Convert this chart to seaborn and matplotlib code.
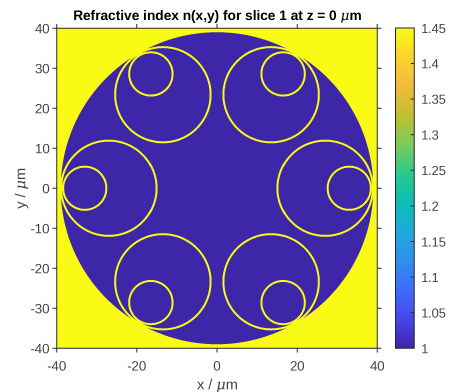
import io
import numpy as np
import matplotlib
matplotlib.use("Agg")
import matplotlib.pyplot as plt
from matplotlib.colors import LinearSegmentedColormap
import seaborn as sns

# Geometry (micrometres)
fiber_radius = 39.0
core_angles_deg = [0, 60, 120, 180, 240, 300]
large_center_dist = 27.0
large_radius = 11.9
small_center_dist = 33.0
small_radius = 5.4
ring_width = 0.5
n_low = 1.0
n_high = 1.45
axis_limit = 40
x_ticks = [-40, -20, 0, 20, 40]
y_ticks = [-40, -30, -20, -10, 0, 10, 20, 30, 40]
cbar_ticks = [1, 1.05, 1.1, 1.15, 1.2, 1.25, 1.3, 1.35, 1.4, 1.45]
cbar_labels = ["1", "1.05", "1.1", "1.15", "1.2", "1.25", "1.3", "1.35", "1.4", "1.45"]
parula_colors = ["#3E26A8", "#4746EB", "#3F6CFE", "#2F90EB", "#1EABDA", "#0BBFB8",
                 "#2BC98C", "#7BCC5A", "#BFC12F", "#F4BA3B", "#FCD22F", "#F9FB15"]

TEXT = "#404040"
plt.rcParams["font.family"] = ["Liberation Sans", "DejaVu Sans"]
plt.rcParams["mathtext.fontset"] = "custom"
plt.rcParams["mathtext.it"] = "DejaVu Serif:italic"
plt.rcParams["mathtext.rm"] = "Liberation Sans"

# Index map on a fine grid
cells = 1280
step = 2 * axis_limit / cells
coords = -axis_limit + step * (np.arange(cells) + 0.5)
X, Y = np.meshgrid(coords, coords[::-1])
index_map = np.full(X.shape, n_high)
index_map[np.hypot(X, Y) <= fiber_radius] = n_low
for a in np.deg2rad(core_angles_deg):
    for d, r in ((large_center_dist, large_radius), (small_center_dist, small_radius)):
        rho = np.hypot(X - d * np.cos(a), Y - d * np.sin(a))
        index_map[np.abs(rho - r) <= ring_width / 2] = n_high

W, H = 452, 392
fw, fh = W + 0.1, H + 0.1
fig = plt.figure(figsize=(fw / 100, fh / 100), dpi=100, facecolor="white")
ax = fig.add_axes([56.7 / fw, (fh - 348.4) / fh, 320.6 / fw, 320 / fh])
cax = fig.add_axes([395.4 / fw, (fh - 348.4) / fh, 18.8 / fw, 320.4 / fh])
cmap = LinearSegmentedColormap.from_list("parula_like", parula_colors, N=256)

sns.heatmap(index_map, ax=ax, cbar_ax=cax, cmap=cmap, vmin=n_low, vmax=n_high,
            xticklabels=False, yticklabels=False, square=False, rasterized=True)


def to_x(v):
    return (np.asarray(v, float) + axis_limit) / step


def to_y(v):
    return (axis_limit - np.asarray(v, float)) / step


ax.set_xticks(to_x(x_ticks))
ax.set_xticklabels([str(v) for v in x_ticks])
ax.set_yticks(to_y(y_ticks))
ax.set_yticklabels([str(v) for v in y_ticks], rotation=0)
ax.tick_params(axis="both", direction="out", length=3, width=0.7, color="#262626",
               labelcolor=TEXT, labelsize=9.6, pad=2,
               top=True, right=True, bottom=True, left=True)
ax.tick_params(axis="x", pad=6)
for s in ax.spines.values():
    s.set_visible(True)
    s.set_linewidth(0.7)
    s.set_color("#262626")

ax.set_xlabel(r"x / $\mu$m", color=TEXT, fontsize=10.5, labelpad=3.5)
ax.set_ylabel(r"y / $\mu$m", color=TEXT, fontsize=10.5, labelpad=1)
ax.set_title(r"Refractive index n(x,y) for slice 1 at z = 0 $\mu$m",
             fontsize=9.85, fontweight="bold", color="black", pad=6)

cax.set_yticks(cbar_ticks)
cax.set_yticklabels(cbar_labels)
cax.tick_params(axis="y", direction="in", length=2.5, width=0.7, color="#262626",
                labelcolor=TEXT, labelsize=9.2, pad=5)
for s in cax.spines.values():
    s.set_visible(True)
    s.set_linewidth(0.7)
    s.set_color("#262626")

# Render large and reduce, which gives the soft edges of the reference
scale = 4
buf = io.BytesIO()
fig.savefig(buf, format="png", dpi=100 * scale)
buf.seek(0)
big = plt.imread(buf)[:, :, :3][:H * scale, :W * scale]
small = big.reshape(H, scale, W, scale, 3).mean(axis=(1, 3))
plt.imsave("out.png", small)
